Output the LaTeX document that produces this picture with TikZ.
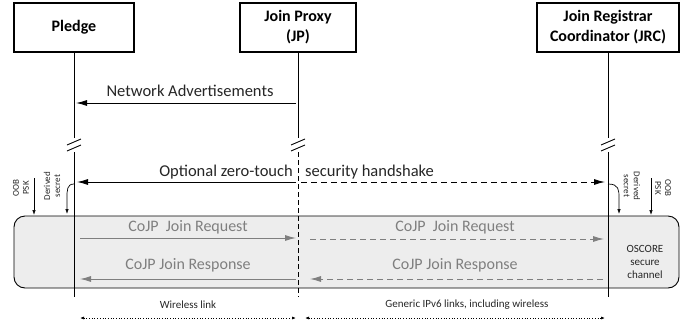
\documentclass[tikz,border=0pt]{standalone}
\usepackage{fontspec}
\setmainfont{Carlito}
\usetikzlibrary{arrows.meta}
\definecolor{boxgray}{HTML}{EDEDED}
\definecolor{msggray}{HTML}{7F7F7F}
\definecolor{txtdark}{HTML}{262626}
\begin{document}
\begin{tikzpicture}[x=1pt,y=-1pt,
  actor/.style={draw, line width=1.4pt, minimum height=49pt, inner sep=0pt,
    align=center, font=\bfseries\fontsize{16}{20}\selectfont},
  life/.style={line width=1pt},
  brk/.style={line width=0.9pt},
  msg/.style={-{Latex[length=11pt,width=6pt]}, line width=0.9pt},
  gmsg/.style={msg, draw=msggray},
  lbl/.style={font=\fontsize{16.5}{20}\selectfont, text=txtdark, inner sep=0pt},
  glbl/.style={font=\fontsize{16}{20}\selectfont, text=msggray, inner sep=0pt},
  small/.style={font=\fontsize{9}{10}\selectfont, align=center, inner sep=0pt, text=txtdark},
  tiny/.style={font=\fontsize{11}{13}\selectfont, align=center, inner sep=0pt, text=txtdark},
  sec/.style={-{Latex[length=5pt,width=3.5pt]}, line width=0.7pt},
  dotarr/.style={{Latex[length=4pt,width=3pt]}-{Latex[length=4pt,width=3pt]}, dotted, line width=0.7pt}
]
\useasboundingbox (0,0) rectangle (694,330);

% gray box
\node[draw, fill=boxgray, rounded corners=11pt, line width=0.9pt, minimum width=665pt, minimum height=72pt, inner sep=0pt] (chan) at (346.5,252) {};

% actors
\node[actor, minimum width=120pt] (pl) at (74,27.5) {Pledge};
\node[actor, minimum width=116pt] (jp) at (298,27.5) {Join Proxy\\(JP)};
\node[actor, minimum width=142pt] (jrc) at (608,27.5) {Join Registrar\\Coordinator (JRC)};

% lifeline coordinates
\coordinate (plA) at (74,138); \coordinate (plB) at (74,152); \coordinate (plE) at (74,297);
\coordinate (jpA) at (298,138); \coordinate (jpB) at (298,152); \coordinate (jpE) at (298,297);
\coordinate (jrA) at (608,138); \coordinate (jrB) at (608,152); \coordinate (jrE) at (608,297);

\draw[life] (pl.south) -- (plA);
\draw[life] (plB) -- (plE);
\draw[life] (jp.south) -- (jpA);
\draw[life, dash pattern=on 5pt off 3pt] (jpB) -- (jpE);
\draw[life] (jrc.south) -- (jrA);
\draw[life] (jrB) -- (jrE);

% break marks
\foreach \c in {74,298,608}{
  \draw[brk] (\c-7,145) -- (\c+7,139);
  \draw[brk] (\c-7,151) -- (\c+7,145);
}

% Network advertisements
\coordinate (naS) at (296,103); \coordinate (naE) at (76,103);
\draw[msg] (naS) -- (naE);
\node[lbl] (nal) at (190,91) {Network Advertisements};

% handshake
\coordinate (hsA) at (296,182); \coordinate (hsP) at (77,182);
\coordinate (hsB) at (301,182); \coordinate (hsJ) at (605,182);
\draw[msg] (hsA) -- (hsP);
\draw[msg, dash pattern=on 6pt off 4pt] (hsB) -- (hsJ);
\node[lbl, anchor=east] (hsl1) at (293,172) {Optional zero-touch};
\node[lbl, anchor=west] (hsl2) at (305,172) {security handshake};

% derived secrets left
\coordinate (dsL0) at (74,184); \coordinate (dsL1) at (67,214);
\draw[sec] (dsL0) .. controls (67,184) and (67,190) .. (67,198) -- (dsL1);
\coordinate (psL0) at (34,178); \coordinate (psL1) at (34,215);
\draw[sec] (psL0) -- (psL1);
\node[small, rotate=90] (psLt) at (21,188) {OOB\\PSK};
\node[small, rotate=90] (dsLt) at (52,186) {Derived\\secret};

% derived secrets right
\coordinate (dsR0) at (608,184); \coordinate (dsR1) at (619,214);
\draw[sec] (dsR0) .. controls (619,184) and (619,190) .. (619,198) -- (dsR1);
\coordinate (psR0) at (651,178); \coordinate (psR1) at (651,215);
\draw[sec] (psR0) -- (psR1);
\node[small, rotate=-90] (psRt) at (663,188) {OOB\\PSK};
\node[small, rotate=-90] (dsRt) at (632,186) {Derived\\secret};

% CoJP messages
\coordinate (rq0) at (80,238); \coordinate (rq1) at (296,238);
\coordinate (rq2) at (310,239); \coordinate (rq3) at (604,239);
\draw[gmsg] (rq0) -- (rq1);
\draw[gmsg, dash pattern=on 6pt off 4pt] (rq2) -- (rq3);
\node[glbl] (rql1) at (188,227) {CoJP\ \ Join Request};
\node[glbl] (rql2) at (455,227) {CoJP\ \ Join Request};

\coordinate (rs0) at (296,279); \coordinate (rs1) at (80,279);
\coordinate (rs2) at (603,279); \coordinate (rs3) at (310,279);
\draw[gmsg] (rs0) -- (rs1);
\draw[gmsg, dash pattern=on 6pt off 4pt] (rs2) -- (rs3);
\node[glbl] (rsl1) at (188,265) {CoJP Join Response};
\node[glbl] (rsl2) at (455,265) {CoJP Join Response};

\node[tiny] (osc) at (645,262) {OSCORE\\secure\\channel};

% links
\coordinate (wl0) at (80,318); \coordinate (wl1) at (296,318);
\coordinate (gl0) at (305,318); \coordinate (gl1) at (605,318);
\draw[dotarr] (wl0) -- (wl1);
\draw[dotarr] (gl0) -- (gl1);
\node[tiny] (wll) at (188,305) {Wireless link};
\node[tiny] (gll) at (467,305) {Generic IPv6 links, including wireless};
\end{tikzpicture}
\end{document}
